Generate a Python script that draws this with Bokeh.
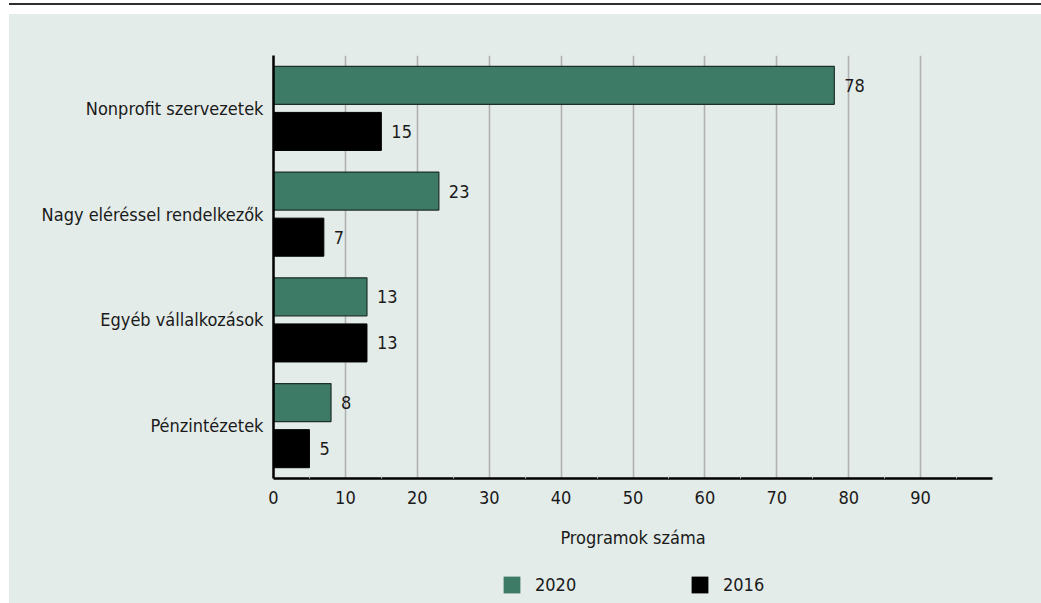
from bokeh.plotting import figure
from bokeh.models import (FactorRange, Range1d, FixedTicker, Legend, LegendItem,
                          ColumnDataSource, Div)
from bokeh.transform import dodge
from bokeh.layouts import column
from bokeh.core.properties import value
from bokeh.embed import file_html
from bokeh.resources import INLINE

# ---- data ----
categories = ["Nonprofit szervezetek", "Nagy eléréssel rendelkezők",
              "Egyéb vállalkozások", "Pénzintézetek"]
values_2020 = [78, 23, 13, 8]
values_2016 = [15, 7, 13, 5]
series_names = ["2020", "2016"]
x_tick_values = [0, 10, 20, 30, 40, 50, 60, 70, 80, 90]
x_axis_title = "Programok száma"

# ---- styles ----
FONT = "DejaVu Sans Condensed"
FS = "18px"
GREEN = "#3e7b67"
BLACK = "#000000"
PANEL = "#e4ece9"
GRID = "#b0b2b2"
TEXT = "#1a1a1a"

source = ColumnDataSource(dict(
    cat=categories,
    v20=values_2020,
    v16=values_2016,
    t20=[str(v) for v in values_2020],
    t16=[str(v) for v in values_2016],
))

# ---- main chart ----
p = figure(width=1032, height=544,
           y_range=FactorRange(factors=list(reversed(categories))),
           x_range=Range1d(0, 100),
           output_backend="svg", toolbar_location=None,
           min_border_left=264, min_border_right=49,
           min_border_top=41, min_border_bottom=80,
           margin=(0, 0, 0, 9),
           styles={"background-color": PANEL})
p.background_fill_color = PANEL
p.border_fill_color = PANEL
p.outline_line_color = None

p.hbar(y=dodge("cat", 0.218, range=p.y_range), left=0, right="v20",
       height=0.36, source=source, fill_color=GREEN,
       line_color="#1c2f28", line_width=1.2)
p.hbar(y=dodge("cat", -0.218, range=p.y_range), left=0, right="v16",
       height=0.36, source=source, fill_color=BLACK,
       line_color=BLACK, line_width=1)

p.text(x="v20", y=dodge("cat", 0.218, range=p.y_range), text="t20", source=source,
       x_offset=10, text_baseline="middle", text_align="left",
       text_font=value(FONT), text_font_size=FS, text_color=TEXT)
p.text(x="v16", y=dodge("cat", -0.218, range=p.y_range), text="t16", source=source,
       x_offset=10, text_baseline="middle", text_align="left",
       text_font=value(FONT), text_font_size=FS, text_color=TEXT)

# grid
p.ygrid.grid_line_color = None
p.xgrid.ticker = FixedTicker(ticks=[10, 20, 30, 40, 50, 60, 70, 80, 90, 100])
p.xgrid.grid_line_color = GRID
p.xgrid.grid_line_width = 1.6
p.xgrid.level = "image"

# x axis
xa = p.xaxis[0]
xa.ticker = FixedTicker(ticks=x_tick_values,
                        minor_ticks=[5, 15, 25, 35, 45, 55, 65, 75, 85, 95])
xa.axis_label = x_axis_title
xa.axis_line_width = 2.5
xa.axis_line_color = BLACK
xa.major_tick_out = 0
xa.major_tick_in = 0
xa.minor_tick_out = 0
xa.minor_tick_in = 3
xa.minor_tick_line_color = "#c8cccb"
xa.major_label_standoff = 12
xa.major_label_text_font = FONT
xa.major_label_text_font_size = FS
xa.major_label_text_color = TEXT
xa.axis_label_text_font = FONT
xa.axis_label_text_font_size = FS
xa.axis_label_text_font_style = "normal"
xa.axis_label_text_color = TEXT
xa.axis_label_standoff = 20

# y axis
ya = p.yaxis[0]
ya.axis_line_width = 2.5
ya.axis_line_color = BLACK
ya.major_tick_out = 0
ya.major_tick_in = 0
ya.minor_tick_out = 0
ya.major_label_standoff = 10
ya.major_label_text_font = FONT
ya.major_label_text_font_size = FS
ya.major_label_text_color = TEXT

# ---- legend strip (same panel colour, continues the chart background) ----
lf = figure(width=1032, height=45, x_range=Range1d(0, 1), y_range=Range1d(0, 1),
            output_backend="svg", toolbar_location=None,
            x_axis_location=None, y_axis_location=None,
            min_border=0, margin=(0, 0, 0, 9),
            styles={"background-color": PANEL})
lf.background_fill_color = PANEL
lf.background_fill_alpha = 0
lf.border_fill_color = PANEL
lf.outline_line_color = None
lf.grid.visible = False
# zero-width legend-key renderers (draw nothing themselves)
key_src = ColumnDataSource(dict(y=[0.5], left=[0], right=[0]))
k20 = lf.hbar(y="y", left="left", right="right", height=0.5, source=key_src,
              fill_color=GREEN, line_color=None)
k16 = lf.hbar(y="y", left="left", right="right", height=0.5, source=key_src,
              fill_color=BLACK, line_color=None)

legend = Legend(items=[LegendItem(label=series_names[0], renderers=[k20]),
                       LegendItem(label=series_names[1], renderers=[k16])],
                orientation="horizontal", location=(228, 8),
                padding=0, margin=0, spacing=109,
                glyph_width=21, glyph_height=21, label_standoff=13,
                label_width=45,
                label_text_font=FONT, label_text_font_size=FS,
                label_text_color=TEXT,
                border_line_color=None, background_fill_alpha=0)
lf.add_layout(legend, "center")

top = Div(text="", width=1032, height=2, margin=(3, 0, 9, 9),
          styles={"background-color": "#2e2e2e"})

layout = column(top, p, lf, spacing=0)

open("out.html", "w").write(file_html(layout, INLINE))
